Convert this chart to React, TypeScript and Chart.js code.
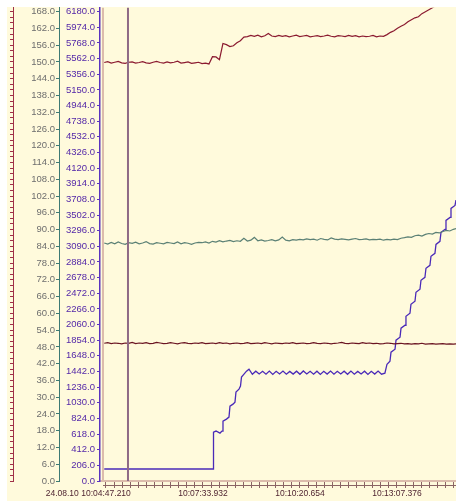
import React, { useEffect, useRef } from "react";
import { Chart, registerables } from "chart.js";
Chart.register(...registerables);

// seconds after 24.08.10 10:04:47.210
const TIMES = [-3, 3, 9, 15, 21, 27, 33, 39, 45, 51, 57, 63, 69, 75, 81, 87, 93, 99, 105, 111, 117, 123, 129, 135, 141, 147, 153, 159, 165, 171, 177, 183, 189, 195, 201, 207, 213, 219, 225, 231, 237, 243, 249, 255, 261, 267, 273, 279, 285, 291, 297, 303, 309, 315, 321, 327, 333, 339, 345, 351, 357, 363, 369, 375, 381, 387, 393, 399, 405, 411, 417, 423, 429, 435, 441, 447, 453, 459, 465, 471, 477, 483, 489, 495, 501, 507, 513, 519, 525, 531, 537, 543, 549, 555, 561, 567, 573, 579, 585, 591, 597, 603];

const TOP_RED = [
  149.8, 150.1, 149.6, 149.9, 150.2, 149.7, 149.5, 149.9, 150.0, 149.6,
  149.8, 150.1, 149.7, 149.5, 149.9, 150.2, 149.8, 149.6, 150.0, 149.7,
  149.9, 150.3, 149.6, 149.8, 150.0, 149.5, 149.7, 149.9, 149.4, 149.6,
  149.3,
  151.9, 151.8, 150.8, 156.6, 156.2, 155.5, 155.8, 156.9, 157.6, 158.9,
  159.1, 159.5, 159.2, 159.6, 159.0, 159.4, 160.2, 159.3, 159.1, 159.5,
  159.2, 159.4, 159.0, 159.3, 159.6, 159.1, 159.3, 159.5, 159.0, 159.2,
  159.4, 159.1, 159.3, 159.6, 159.2, 159.0, 159.4, 159.3, 159.1, 159.5,
  159.2, 159.4, 159.0, 159.3, 159.1, 159.2, 159.5, 159.0, 159.3, 159.2,
  159.8, 160.6, 161.2, 162.1, 162.8, 163.4, 164.4, 165.1, 165.8, 166.2,
  167.3, 168.0, 168.7, 169.4, 170.2, 170.9,
];

const GREEN = [
  85.2, 84.8, 85.4, 84.9, 85.6, 85.0, 84.7, 85.3, 85.1, 85.5,
  84.9, 85.2, 85.7, 85.0, 84.8, 85.3, 85.1, 84.9, 85.4, 85.2,
  85.0, 85.6, 84.9, 85.3, 85.1, 84.7, 85.2, 85.4,
  85.3, 85.6, 85.2, 85.8, 85.5, 86.0, 85.6, 85.9, 86.1, 85.7,
  86.0, 85.8, 86.9, 85.9, 86.2, 87.2, 86.0, 86.3, 85.9, 86.1,
  86.4, 86.0, 86.3, 87.3, 86.2, 86.0, 86.4, 86.2,
  86.5, 86.3, 86.7, 86.4, 86.6, 86.2, 86.8, 86.5, 86.3, 87.0,
  86.6, 86.4, 86.7, 86.5, 86.3, 86.6, 86.8, 86.4, 86.5, 86.7,
  86.3, 86.5, 86.4, 86.6, 86.2, 86.5, 86.3, 86.6, 86.4,
  86.9, 87.1, 87.4, 87.2, 87.8, 88.0, 87.7, 88.3, 88.6, 88.4,
  89.0, 88.8, 89.3, 89.7, 89.5, 90.1, 90.4,
];

const MID_RED = [
  49.3, 49.5, 49.2, 49.4, 49.3, 49.1, 49.4, 49.3, 49.6, 49.2,
  49.4, 49.3, 49.5, 49.2, 49.3, 49.6, 49.4, 49.2, 49.3, 49.5,
  49.3, 49.1, 49.4, 49.5, 49.3, 49.2, 49.4, 49.3, 49.5, 49.2,
  49.3, 49.4, 49.2, 49.5, 49.3, 49.4, 49.1, 49.3, 49.4, 49.2,
  49.3, 49.5, 49.2, 49.3, 49.4, 49.2, 49.5, 49.3, 49.1, 49.4,
  49.3, 49.2, 49.4, 49.3, 49.5, 49.2, 49.3, 49.4, 49.2, 49.3,
  49.5, 49.3, 49.2, 49.4, 49.3, 49.1, 49.3, 49.4, 49.6, 49.3,
  49.2, 49.4, 49.3, 49.2, 49.5, 49.3, 49.4, 49.2, 49.3, 49.1,
  49.2, 49.4, 49.3, 49.1, 49.2, 49.3, 49.1, 49.2, 49.0, 49.2,
  49.1, 49.3, 49.0, 49.1, 49.2, 49.0, 49.1, 49.2, 49.0, 49.1,
  49.0, 49.1,
];

const PURPLE_T = [
  -3, 184.4, 184.8, 189.1, 195.9, 199.4, 201.1, 207.1, 211.4, 213.1,
  218.3, 221.7, 223.4, 228.6, 231.2, 232.9, 237.2, 241.5, 245.8,
  251.6, 257.5, 263.3, 269.2, 275.0, 280.8, 286.7, 292.5, 298.4, 304.2,
  310.0, 315.9, 321.7, 327.6, 333.4, 339.2, 345.1, 350.9, 356.8, 362.6,
  368.4, 374.3, 380.1, 386.0, 391.8, 397.6, 403.5, 409.3, 415.2, 421.0,
  426.8, 432.7, 438.5, 444.4, 450.2, 456.0, 461.9, 467.7, 473.6, 479.4,
  483.0, 488.1, 489.9, 496.8, 498.5, 505.4, 507.1, 514.0, 515.6, 522.5,
  524.2, 531.1, 532.8, 539.7, 541.4, 548.2, 550.0, 556.8, 558.6, 565.4,
  567.2, 574.0, 575.8, 582.7, 584.4, 591.3, 593.0, 599.9, 601.6,
];
const PURPLE_V = [
  158, 158, 644, 658, 631, 658, 789, 815, 842, 986,
  1012, 1039, 1170, 1210, 1249, 1368, 1407, 1446, 1473,
  1405, 1446, 1410, 1444, 1407, 1448, 1404, 1445, 1409, 1447,
  1406, 1443, 1408, 1446, 1405, 1449, 1410, 1444, 1407, 1446,
  1404, 1445, 1408, 1447, 1406, 1444, 1409, 1446, 1405, 1448,
  1407, 1443, 1410, 1446, 1404, 1445, 1408, 1447, 1406, 1420,
  1538, 1578, 1696, 1736, 1854, 1894, 2012, 2051, 2170, 2209,
  2327, 2367, 2485, 2525, 2643, 2682, 2801, 2840, 2959, 2998,
  3116, 3156, 3274, 3314, 3432, 3471, 3590, 3629, 3700,
];

const TEAL_TICKS = [0, 6, 12, 18, 24, 30, 36, 42, 48, 54, 60, 66, 72, 78, 84, 90, 96, 102, 108, 114, 120, 126, 132, 138, 144, 150, 156, 162, 168];
const PURPLE_TICKS = [0, 206, 412, 618, 824, 1030, 1236, 1442, 1648, 1854, 2060, 2266, 2472, 2678, 2884, 3090, 3296, 3502, 3708, 3914, 4120, 4326, 4532, 4738, 4944, 5150, 5356, 5562, 5768, 5974, 6180];
const X_MAJOR = [0, 166.722, 333.444, 500.166];
const X_LABELS = ["24.08.10 10:04:47.210", "10:07:33.932", "10:10:20.654", "10:13:07.376"];
const X_FIRST_TIME = "10:04:47.210";
const X_MINOR_PER_MAJOR = 12;
const CURSOR_T = 37.8;

const X_MIN = -10.3;
const X_MAX = 601.6;
const TEAL_MAX = 169.43;
const PURPLE_MAX = 6232.6;

const CREAM = "#FFFADC";
const FONT = "'Liberation Sans', Arial, sans-serif";

export default function App() {
  const ref = useRef<HTMLCanvasElement | null>(null);

  useEffect(() => {
    const canvas = ref.current;
    if (!canvas) return;

    const bgPlugin = {
      id: "bg",
      beforeDraw(chart: any) {
        const { ctx, width, height } = chart;
        ctx.save();
        ctx.fillStyle = "#ffffff";
        ctx.fillRect(0, 0, width, height);
        ctx.fillStyle = CREAM;
        ctx.fillRect(7, 7, width - 7, height - 7);
        ctx.restore();
      },
      beforeDatasetsDraw(chart: any) {
        const { ctx, chartArea } = chart;
        ctx.save();
        ctx.strokeStyle = "#dcbcac";
        ctx.lineWidth = 2;
        ctx.beginPath();
        ctx.moveTo(chartArea.left + 3, chartArea.top);
        ctx.lineTo(chartArea.left + 3, chartArea.bottom);
        ctx.stroke();
        ctx.restore();
      },
      afterDatasetsDraw(chart: any) {
        const { ctx, chartArea, scales } = chart;
        const px = scales.x.getPixelForValue(CURSOR_T);
        ctx.save();
        ctx.strokeStyle = "#8e6a86";
        ctx.lineWidth = 2;
        ctx.beginPath();
        ctx.moveTo(px, chartArea.top);
        ctx.lineTo(px, chartArea.bottom);
        ctx.stroke();
        ctx.restore();
      },
      afterDraw(chart: any) {
        const { ctx, chartArea, scales } = chart;
        const xs = scales.x;
        ctx.save();
        ctx.strokeStyle = "#8a6464";
        ctx.lineWidth = 1;
        ctx.beginPath();
        ctx.moveTo(chartArea.left + 3, chartArea.bottom + 4.5);
        ctx.lineTo(chartArea.right, chartArea.bottom + 4.5);
        ctx.stroke();
        ctx.font = `8.5px ${FONT}`;
        ctx.fillStyle = "#4a1e2c";
        ctx.textBaseline = "middle";
        const y = chartArea.bottom + 13;
        X_MAJOR.forEach((v, i) => {
          const p = xs.getPixelForValue(v);
          if (i === 0) {
            const w = ctx.measureText(X_FIRST_TIME).width;
            ctx.textAlign = "right";
            ctx.fillText(X_LABELS[i], p + w / 2, y);
          } else {
            ctx.textAlign = "center";
            ctx.fillText(X_LABELS[i], p, y);
          }
        });
        ctx.restore();
      },
    };

    const pts = (vals: number[]) => vals.map((v, i) => ({ x: TIMES[i], y: v }));

    const chart = new Chart(canvas, {
      type: "line",
      data: {
        datasets: [
          { data: pts(TOP_RED), yAxisID: "yTeal", borderColor: "#8b1a30", borderWidth: 1.2, pointRadius: 0 },
          { data: pts(GREEN), yAxisID: "yTeal", borderColor: "#5b8075", borderWidth: 1.2, pointRadius: 0 },
          { data: pts(MID_RED), yAxisID: "yTeal", borderColor: "#6a1422", borderWidth: 1.2, pointRadius: 0 },
          {
            data: PURPLE_V.map((v, i) => ({ x: PURPLE_T[i], y: v })),
            yAxisID: "yPurple",
            borderColor: "#4a2ab8",
            borderWidth: 1.3,
            pointRadius: 0,
          },
        ],
      },
      options: {
        animation: false,
        responsive: false,
        devicePixelRatio: 1,
        events: [],
        layout: { padding: { top: 7, left: 0, right: 0, bottom: 0 } },
        plugins: { legend: { display: false }, tooltip: { enabled: false } },
        scales: {
          x: {
            type: "linear",
            position: "bottom",
            min: X_MIN,
            max: X_MAX,
            afterBuildTicks: (s: any) => {
              const step = (X_MAJOR[1] - X_MAJOR[0]) / X_MINOR_PER_MAJOR;
              const out: any[] = [];
              for (let v = X_MAJOR[0]; v <= X_MAX; v += step) out.push({ value: v });
              s.ticks = out;
            },
            afterFit: (s: any) => { s.height = 20; },
            ticks: { display: false, autoSkip: false },
            grid: { drawOnChartArea: false, drawTicks: true, tickLength: 7, color: "#8a6464" },
            border: { display: true, color: "#dcbcac", width: 2 },
          },
          yRed: {
            type: "linear",
            position: "left",
            weight: 3,
            min: 0,
            max: TEAL_MAX,
            afterBuildTicks: (s: any) => {
              const out: any[] = [];
              for (let v = 0; v <= TEAL_MAX; v += 2) out.push({ value: v });
              s.ticks = out;
            },
            afterFit: (s: any) => { s.width = 13; },
            ticks: { display: false },
            grid: { drawOnChartArea: false, drawTicks: true, tickLength: 3, color: "#a03048" },
            border: { display: true, color: "#a03048", width: 1 },
          },
          yTeal: {
            type: "linear",
            position: "left",
            weight: 2,
            min: 0,
            max: TEAL_MAX,
            afterBuildTicks: (s: any) => { s.ticks = TEAL_TICKS.map((v) => ({ value: v })); },
            afterFit: (s: any) => { s.width = 46; },
            ticks: {
              autoSkip: false,
              padding: 1,
              color: "#6e6e6e",
              font: { family: FONT, size: 9.5 },
              callback: (v: any) => Number(v).toFixed(1),
            },
            grid: { drawOnChartArea: false, drawTicks: true, tickLength: 3, color: "#3e7a74" },
            border: { display: true, color: "#3e7a74", width: 1 },
          },
          yPurple: {
            type: "linear",
            position: "left",
            weight: 1,
            min: 0,
            max: PURPLE_MAX,
            afterBuildTicks: (s: any) => { s.ticks = PURPLE_TICKS.map((v) => ({ value: v })); },
            afterFit: (s: any) => { s.width = 41; },
            ticks: {
              autoSkip: false,
              padding: 2,
              color: "#5428a8",
              font: { family: FONT, size: 9.5 },
              callback: (v: any) => Number(v).toFixed(1),
            },
            grid: { drawOnChartArea: false, drawTicks: true, tickLength: 3, color: "#5a34c0" },
            border: { display: true, color: "#5a34c0", width: 1.5 },
          },
        },
      },
      plugins: [bgPlugin],
    } as any);

    return () => chart.destroy();
  }, []);

  return (
    <div style={{ position: "fixed", left: 0, top: 0, width: 456, height: 501, background: "#fff" }}>
      <canvas ref={ref} width={456} height={501} style={{ display: "block", width: 456, height: 501 }} />
    </div>
  );
}
